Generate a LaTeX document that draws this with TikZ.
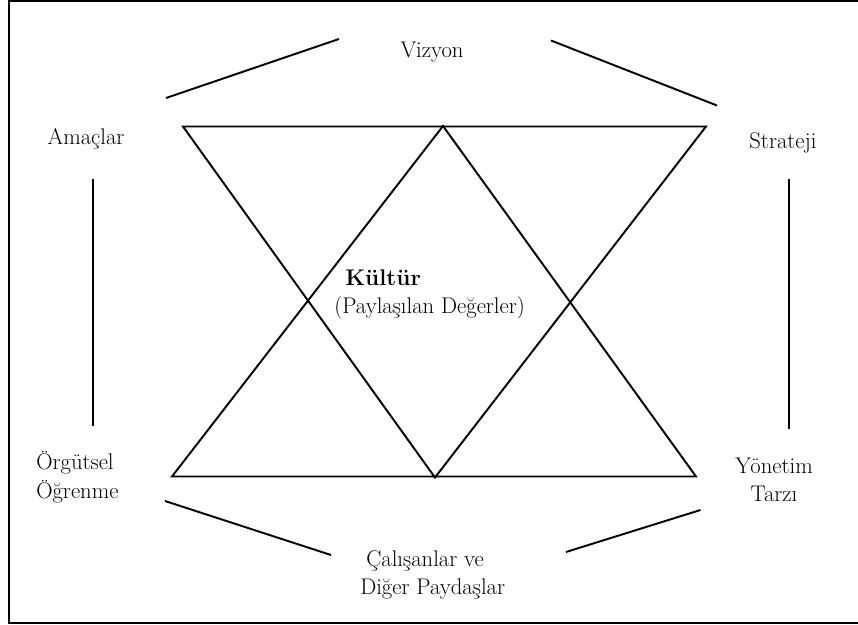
\documentclass[tikz,border=0pt]{standalone}
\usepackage{fontspec}
\begin{document}
\begin{tikzpicture}[x=0.75pt,y=-0.75pt,
  ln/.style={line width=1.45pt},
  lbl/.style={font=\fontsize{17}{21.5}\selectfont, inner sep=0pt, align=center}]
\useasboundingbox (0,0) rectangle (858,625);
% frame (right side lies outside the picture)
\coordinate (fr1) at (880,1);
\coordinate (fr2) at (9,1);
\coordinate (fr3) at (9,623);
\coordinate (fr4) at (880,623);
\draw[line width=1.3pt] (fr1) -- (fr2) -- (fr3) -- (fr4);
% triangles
\coordinate (tl) at (183,126.5);
\coordinate (tr) at (706,126.5);
\coordinate (ba) at (435,477.5);
\coordinate (ta) at (443,126);
\coordinate (bl) at (172,476.5);
\coordinate (br) at (696,476.5);
\draw[ln] (tl) -- (tr) -- (ba) -- cycle;
\draw[ln] (ta) -- (br) -- (bl) -- cycle;
% labels
\node[lbl] (viz) at (432,52) {Vizyon};
\node[lbl] (ama) at (86,139) {Amaçlar};
\node[lbl] (str) at (783,143) {Strateji};
\node[lbl, anchor=west, align=left] (org) at (36,477) {Örgütsel\\Öğrenme};
\node[lbl] (yon) at (774,480) {Yönetim\\Tarzı};
\node[lbl, anchor=west] (cal) at (366,561) {Çalışanlar ve};
\node[lbl, anchor=west] (dig) at (360,589) {Diğer Paydaşlar};
\node[lbl, anchor=west] (kul) at (345,278) {\bfseries Kültür};
\node[lbl, anchor=west] (pay) at (334,308) {(Paylaşılan Değerler)};
% connectors between labels
\coordinate (c1a) at (166,98);  \coordinate (c1b) at (339,39);
\coordinate (c2a) at (551,40.5); \coordinate (c2b) at (717,105.5);
\coordinate (c3a) at (93,178.5); \coordinate (c3b) at (93,425.5);
\coordinate (c4a) at (789,179); \coordinate (c4b) at (789,429);
\coordinate (c5a) at (165,501); \coordinate (c5b) at (331,555);
\coordinate (c6a) at (566,552); \coordinate (c6b) at (700.5,510);
\draw[ln] (c1a) -- (c1b);
\draw[ln] (c2a) -- (c2b);
\draw[ln] (c3a) -- (c3b);
\draw[ln] (c4a) -- (c4b);
\draw[ln] (c5a) -- (c5b);
\draw[ln] (c6a) -- (c6b);
\end{tikzpicture}
\end{document}
